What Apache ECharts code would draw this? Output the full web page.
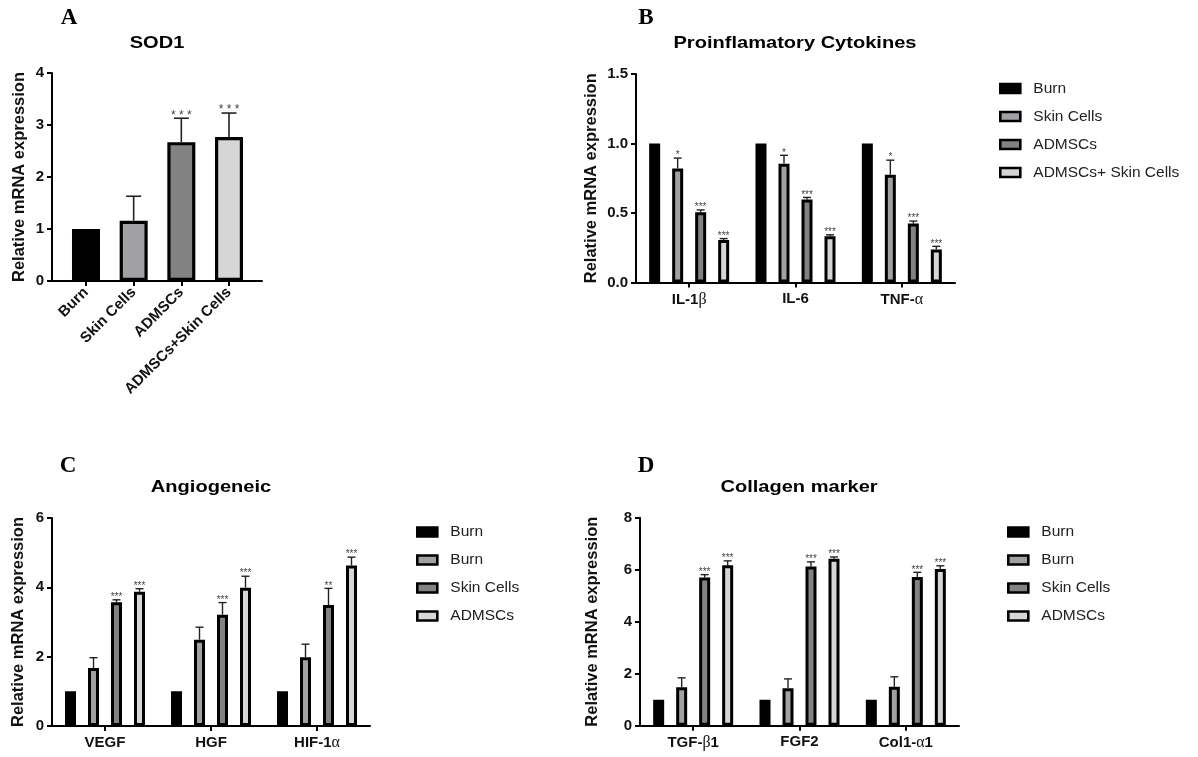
<!DOCTYPE html>
<html><head><meta charset="utf-8">
<script src="https://cdn.jsdelivr.net/npm/echarts@6/dist/echarts.min.js"></script>
<style>html,body{margin:0;padding:0;background:#fff}#c{width:1198px;height:757px}</style>
</head><body><div id="c"></div>
<script>
// ---------- data ----------
const groupNames = ['Burn', 'Skin Cells', 'ADMSCs', 'ADMSCs+ Skin Cells'];
const legendLabelsB = ['Burn', 'Skin Cells', 'ADMSCs', 'ADMSCs+ Skin Cells'];
const legendLabelsCD = ['Burn', 'Burn', 'Skin Cells', 'ADMSCs'];
const groupColors = ['#000000', '#a1a1a5', '#828282', '#d6d6d6'];

// Panel A : SOD1
const aCategories = ['Burn', 'Skin Cells', 'ADMSCs', 'ADMSCs+Skin Cells'];
const aValues = [1.0, 1.16, 2.67, 2.77];
const aErrors = [0, 0.47, 0.46, 0.46];
const aStars = ['', '', '***', '***'];
const aYTicks = [0, 1, 2, 3, 4];

// Panel B : Proinflamatory Cytokines
const bCategories = ['IL-1β', 'IL-6', 'TNF-α'];
const bBurn = [1, 1, 1];
const bSkin = [0.82, 0.855, 0.775];
const bAdmsc = [0.505, 0.597, 0.424];
const bCombo = [0.306, 0.333, 0.238];
const bBurnErr = [0, 0, 0];
const bSkinErr = [0.075, 0.06, 0.105];
const bAdmscErr = [0.017, 0.015, 0.018];
const bComboErr = [0.01, 0.01, 0.022];
const bSkinStars = ['*', '*', '*'];
const bAdmscStars = ['***', '***', '***'];
const bComboStars = ['***', '***', '***'];
const bYTicks = ['0.0', '0.5', '1.0', '1.5'];

// Panel C : Angiogeneic
const cCategories = ['VEGF', 'HGF', 'HIF-1α'];
const cBurn = [1, 1, 1];
const cSkin = [1.67, 2.49, 1.98];
const cAdmsc = [3.57, 3.21, 3.49];
const cCombo = [3.87, 3.99, 4.63];
const cBurnErr = [0, 0, 0];
const cSkinErr = [0.30, 0.36, 0.38];
const cAdmscErr = [0.07, 0.35, 0.48];
const cComboErr = [0.09, 0.33, 0.24];
const cSkinStars = ['', '', ''];
const cAdmscStars = ['***', '***', '**'];
const cComboStars = ['***', '***', '***'];
const cYTicks = [0, 2, 4, 6];

// Panel D : Collagen marker
const dCategories = ['TGF-β1', 'FGF2', 'Col1-α1'];
const dBurn = [1, 1, 1];
const dSkin = [1.48, 1.44, 1.50];
const dAdmsc = [5.70, 6.12, 5.72];
const dCombo = [6.17, 6.42, 6.03];
const dBurnErr = [0, 0, 0];
const dSkinErr = [0.36, 0.36, 0.38];
const dAdmscErr = [0.11, 0.18, 0.18];
const dComboErr = [0.17, 0.07, 0.12];
const dSkinStars = ['', '', ''];
const dAdmscStars = ['***', '***', '***'];
const dComboStars = ['***', '***', '***'];
const dYTicks = [0, 2, 4, 6, 8];

// ---------- build ----------
const FONT = '"Liberation Sans", Arial, sans-serif';
const chart = echarts.init(document.getElementById('c'), null, {renderer: 'canvas'});

const BAR_W = 11, GAP_RATIO = 12 / 11, STRIDE = BAR_W * (1 + GAP_RATIO);

const axisLineStyle = {color: '#000', width: 2};
const tickLabel = {fontSize: 15, fontWeight: 'bold', color: '#111', fontFamily: FONT};
const greekRich = {g: {fontFamily: '"Liberation Serif", "DejaVu Serif", serif', fontSize: 16, fontWeight: 'normal', color: '#111'}};
function greekFmt(v) { return String(v).replace(/([αβ])/g, '{g|$1}'); }

const grids = [
  {left: 52, top: 73, width: 210, height: 208},
  {left: 636, top: 74, width: 319, height: 208.5},
  {left: 52, top: 518, width: 318, height: 208},
  {left: 640, top: 517.7, width: 319, height: 208}
];

function yAxisFor(g, ticks, gap, fmt) {
  const nums = ticks.map(Number);
  return {
    gridIndex: g, type: 'value', min: nums[0], max: nums[nums.length - 1], interval: nums[1] - nums[0],
    name: 'Relative mRNA expression', nameLocation: 'middle', nameGap: gap,
    nameTextStyle: {fontSize: 16.5, fontWeight: 'bold', color: '#111', fontFamily: FONT},
    axisLine: {show: true, onZero: false, lineStyle: axisLineStyle},
    axisTick: {show: true, length: 5, lineStyle: axisLineStyle},
    axisLabel: Object.assign({margin: 8, formatter: fmt}, tickLabel),
    splitLine: {show: false}
  };
}

const xAxes = [
  {
    gridIndex: 0, type: 'value', min: -0.713, max: 3.692,
    axisLine: {show: true, onZero: false, lineStyle: axisLineStyle},
    axisTick: {show: true, length: 5, lineStyle: axisLineStyle, customValues: aCategories.map((c, i) => i)},
    axisLabel: Object.assign({customValues: aCategories.map((c, i) => i), formatter: v => aCategories[Math.round(v)],
      rotate: 45, margin: 9}, tickLabel),
    splitLine: {show: false}
  }
];
[bCategories, cCategories, dCategories].forEach((cats, k) => {
  xAxes.push({
    gridIndex: k + 1, type: 'category', data: cats,
    axisLine: {show: true, onZero: false, lineStyle: axisLineStyle},
    axisTick: {show: true, alignWithLabel: true, length: 5, lineStyle: axisLineStyle},
    axisLabel: Object.assign({margin: 9, formatter: greekFmt, rich: greekRich}, tickLabel),
    splitLine: {show: false}
  });
});

const yAxes = [
  yAxisFor(0, aYTicks, 24),
  yAxisFor(1, bYTicks, 36, v => v.toFixed(1)),
  yAxisFor(2, cYTicks, 25),
  yAxisFor(3, dYTicks, 39)
];

const series = [];

// Panel A bars
series.push({
  type: 'bar', xAxisIndex: 0, yAxisIndex: 0, barWidth: 28,
  data: aValues.map((v, i) => ({value: [i, v], itemStyle: {color: groupColors[i]}})),
  itemStyle: {borderColor: '#000', borderWidth: 3.2},
  silent: true
});
series.push({
  type: 'custom', xAxisIndex: 0, yAxisIndex: 0, silent: true, clip: false, z: 5,
  data: aValues.map((v, i) => [i, v, aErrors[i]]),
  encode: {x: 0, y: 1},
  renderItem: function (params, api) {
    const i = api.value(0), v = api.value(1), e = api.value(2);
    const p = api.coord([i, v]);
    const top = api.coord([i, v + e])[1];
    const ch = [];
    const ls = {stroke: '#222', lineWidth: 1.6};
    if (e > 0) {
      ch.push({type: 'line', shape: {x1: p[0], y1: p[1], x2: p[0], y2: top}, style: ls});
      ch.push({type: 'line', shape: {x1: p[0] - 7.5, y1: top, x2: p[0] + 7.5, y2: top}, style: ls});
    }
    const s = aStars[params.dataIndex];
    if (s) ch.push({type: 'text', style: {text: s.split('').join(' '), x: p[0], y: top - 3,
      font: '12px ' + FONT, fill: '#444', textAlign: 'center', textVerticalAlign: 'middle', align: 'center', verticalAlign: 'middle'}});
    return {type: 'group', children: ch};
  }
});

function addGrouped(g, vals, errs, stars) {
  vals.forEach((arr, i) => {
    series.push({
      name: groupNames[i], type: 'bar', xAxisIndex: g, yAxisIndex: g,
      barWidth: BAR_W, barGap: (GAP_RATIO * 100).toFixed(2) + '%',
      data: arr, silent: true,
      itemStyle: {color: groupColors[i], borderColor: '#000', borderWidth: 3}
    });
  });
  const data = [];
  const starList = [];
  vals.forEach((arr, i) => arr.forEach((v, j) => { data.push([j, i, v, errs[i][j]]); starList.push(stars[i][j]); }));
  series.push({
    name: 'err' + g, type: 'custom', xAxisIndex: g, yAxisIndex: g, silent: true, clip: false, z: 5,
    data: data, encode: {x: 0, y: 2},
    renderItem: function (params, api) {
      const cat = api.value(0), si = api.value(1), v = api.value(2), e = api.value(3);
      const base = api.coord([cat, v]);
      const x = base[0] + (si - 1.5) * STRIDE;
      const top = api.coord([cat, v + e])[1];
      const ch = [];
      const ls = {stroke: '#222', lineWidth: 1.4};
      if (e > 0) {
        ch.push({type: 'line', shape: {x1: x, y1: base[1], x2: x, y2: top}, style: ls});
        ch.push({type: 'line', shape: {x1: x - 4, y1: top, x2: x + 4, y2: top}, style: ls});
      }
      const s = starList[params.dataIndex];
      if (s) ch.push({type: 'text', style: {text: s, x: x, y: top - 2.5,
        font: '10px ' + FONT, fill: '#444', textAlign: 'center', textVerticalAlign: 'middle', align: 'center', verticalAlign: 'middle'}});
      return {type: 'group', children: ch};
    }
  });
}

addGrouped(1, [bBurn, bSkin, bAdmsc, bCombo], [bBurnErr, bSkinErr, bAdmscErr, bComboErr], [['', '', ''], bSkinStars, bAdmscStars, bComboStars]);
addGrouped(2, [cBurn, cSkin, cAdmsc, cCombo], [cBurnErr, cSkinErr, cAdmscErr, cComboErr], [['', '', ''], cSkinStars, cAdmscStars, cComboStars]);
addGrouped(3, [dBurn, dSkin, dAdmsc, dCombo], [dBurnErr, dSkinErr, dAdmscErr, dComboErr], [['', '', ''], dSkinStars, dAdmscStars, dComboStars]);

function legendAt(left, top, labels) {
  return {
    orient: 'vertical', left: left, top: top, padding: 0,
    itemWidth: 20, itemHeight: 9, itemGap: 11, icon: 'rect',
    data: groupNames, selectedMode: false,
    formatter: name => labels[groupNames.indexOf(name)],
    itemStyle: {borderColor: '#000', borderWidth: 2.6},
    textStyle: {fontSize: 15.5, fontFamily: FONT, color: '#222', lineHeight: 17, padding: [0, 0, 0, 8]}
  };
}

function txt(x, y, text, font, sx) {
  return {type: 'text', x: x, y: y, silent: true, scaleX: sx || 1,
    style: {text: text, font: font, fill: '#000', textAlign: 'center', textVerticalAlign: 'middle', align: 'center', verticalAlign: 'middle'}};
}
const serifB = 'bold 23px "Liberation Serif", "Times New Roman", serif';
const titleF = 'bold 17px ' + FONT;

chart.setOption({
  animation: false,
  backgroundColor: '#fff',
  grid: grids,
  xAxis: xAxes,
  yAxis: yAxes,
  legend: [legendAt(999, 80, legendLabelsB), legendAt(416, 523.5, legendLabelsCD), legendAt(1007, 523.5, legendLabelsCD)],
  graphic: [
    txt(69, 18, 'A', serifB), txt(646, 18, 'B', serifB), txt(68, 466, 'C', serifB), txt(646, 466, 'D', serifB),
    txt(157, 43, 'SOD1', titleF, 1.18), txt(795, 43, 'Proinflamatory Cytokines', titleF, 1.18),
    txt(211, 487, 'Angiogeneic', titleF, 1.18), txt(799, 487, 'Collagen marker', titleF, 1.18)
  ],
  series: series
});
</script>
</body></html>
